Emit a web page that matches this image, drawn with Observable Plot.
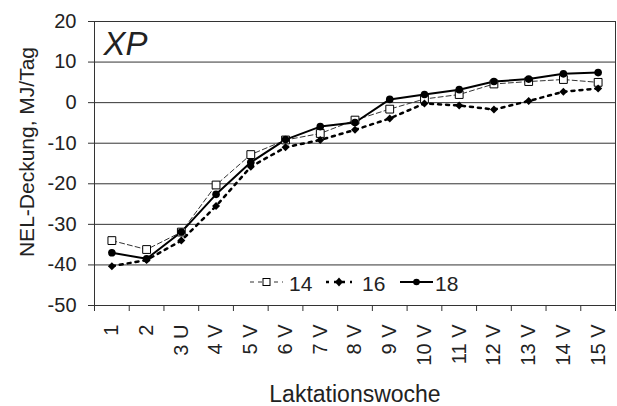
<!DOCTYPE html>
<html><head><meta charset="utf-8">
<script src="https://cdn.jsdelivr.net/npm/d3@7"></script>
<script src="https://cdn.jsdelivr.net/npm/@observablehq/plot@0.6"></script>
<style>
body{margin:0;background:#fff;}
#wrap{position:relative;width:617px;height:406px;font-family:"Liberation Sans",Arial,sans-serif;color:#222;}
#legend{position:absolute;left:0;top:0;pointer-events:none;}
</style></head><body><div id="wrap"></div>
<script>
const weeks = ["1","2","3 U","4 V","5 V","6 V","7 V","8 V","9 V","10 V","11 V","12 V","13 V","14 V","15 V"];
const s14 = [-34.0,-36.2,-31.9,-20.3,-12.8,-9.2,-7.6,-4.3,-1.6,0.9,2.0,4.6,5.2,5.7,5.0];
const s16 = [-40.3,-38.8,-34.0,-25.5,-15.8,-11.0,-9.2,-6.7,-3.9,-0.2,-0.7,-1.7,0.4,2.7,3.5];
const s18 = [-37.0,-38.5,-31.9,-22.6,-14.7,-9.1,-5.9,-4.9,0.8,2.0,3.2,5.2,5.8,7.1,7.4];
const seriesNames = ["14","16","18"];
const yTicks = [-50,-40,-30,-20,-10,0,10,20];
const yTitle = "NEL-Deckung, MJ/Tag";
const xTitle = "Laktationswoche";
const panelLabel = "XP";

const idx = weeks.map((_, i) => i + 1);
const edges = d3.range(0, weeks.length + 1).map(i => i + 0.5);
const rows = vals => vals.map((v, i) => ({x: i + 1, y: v}));
const d14 = rows(s14), d16 = rows(s16), d18 = rows(s18);

const chart = Plot.plot({
  width: 617, height: 406,
  marginLeft: 94, marginRight: 2, marginTop: 21, marginBottom: 101,
  style: {fontFamily: "Liberation Sans, Arial, sans-serif", fontSize: "20px", color: "#222", background: "#fff"},
  x: {type: "linear", domain: [0.5, weeks.length + 0.5]},
  y: {domain: [-50, 20]},
  marks: [
    Plot.gridY(yTicks, {stroke: "#333", strokeOpacity: 1}),
    Plot.frame({stroke: "#333"}),
    Plot.axisY(yTicks, {tickSize: 6, tickPadding: 12, label: null, stroke: "#333", tickFormat: d => String(d)}),
    Plot.axisX(edges, {tickSize: 6, tickFormat: () => "", label: null, stroke: "#333"}),
    Plot.axisX(idx, {tickSize: 0, tickPadding: 19, tickRotate: -90, tickFormat: i => weeks[i - 1], label: null}),
    Plot.line(d14, {x: "x", y: "y", stroke: "#333", strokeWidth: 1, strokeDasharray: "5,3"}),
    Plot.line(d16, {x: "x", y: "y", stroke: "#000", strokeWidth: 2.5, strokeDasharray: "3,5"}),
    Plot.line(d18, {x: "x", y: "y", stroke: "#000", strokeWidth: 2}),
    Plot.dot(d14, {x: "x", y: "y", symbol: "square", r: 4.4, fill: "#fff", stroke: "#000", strokeWidth: 1}),
    Plot.dot(d16, {x: "x", y: "y", symbol: "diamond2", r: 3.6, fill: "#000", stroke: "none"}),
    Plot.dot(d18, {x: "x", y: "y", symbol: "circle", r: 3.8, fill: "#000", stroke: "none"}),
    Plot.text([xTitle], {text: d => d, frameAnchor: "bottom", dy: 96, lineAnchor: "bottom", fontSize: 23}),
    Plot.text([yTitle], {text: d => d, frameAnchor: "left", textAnchor: "middle", lineAnchor: "middle", dx: -67, dy: -11.5, rotate: -90, fontSize: 21}),
    Plot.text([panelLabel], {text: d => d, frameAnchor: "top-left", dx: 9, dy: 33, lineAnchor: "bottom", textAnchor: "start", fontSize: 33, fontStyle: "italic"})
  ]
});
const wrap = document.getElementById("wrap");
wrap.appendChild(chart);

// legend overlay
const ns = "http://www.w3.org/2000/svg";
const leg = document.createElementNS(ns, "svg");
leg.setAttribute("id", "legend");
leg.setAttribute("width", 617); leg.setAttribute("height", 406);
const items = [
  {x0: 250, x1: 283, tx: 289, dash: "4,4", w: 1, stroke: "#333", sym: "square"},
  {x0: 326, x1: 352, tx: 362, dash: "3,5", w: 2.5, stroke: "#000", sym: "diamond"},
  {x0: 400, x1: 433, tx: 435, dash: null, w: 2, stroke: "#000", sym: "circle"}
];
const ly = 282;
items.forEach((it, i) => {
  const l = document.createElementNS(ns, "line");
  l.setAttribute("x1", it.x0); l.setAttribute("x2", it.x1);
  l.setAttribute("y1", ly); l.setAttribute("y2", ly);
  l.setAttribute("stroke", it.stroke); l.setAttribute("stroke-width", it.w);
  if (it.dash) l.setAttribute("stroke-dasharray", it.dash);
  leg.appendChild(l);
  const cx = (it.x0 + it.x1) / 2;
  let s;
  if (it.sym === "square") {
    s = document.createElementNS(ns, "rect");
    s.setAttribute("x", cx - 3.5); s.setAttribute("y", ly - 3.5);
    s.setAttribute("width", 7); s.setAttribute("height", 7);
    s.setAttribute("fill", "#fff"); s.setAttribute("stroke", "#000");
  } else if (it.sym === "diamond") {
    s = document.createElementNS(ns, "path");
    s.setAttribute("d", `M${cx},${ly-4.5}L${cx+4},${ly}L${cx},${ly+4.5}L${cx-4},${ly}Z`);
    s.setAttribute("fill", "#000");
  } else {
    s = document.createElementNS(ns, "circle");
    s.setAttribute("cx", cx); s.setAttribute("cy", ly); s.setAttribute("r", 3.3);
    s.setAttribute("fill", "#000");
  }
  leg.appendChild(s);
  const t = document.createElementNS(ns, "text");
  t.setAttribute("x", it.tx); t.setAttribute("y", 291);
  t.setAttribute("font-size", 21); t.setAttribute("fill", "#222");
  t.setAttribute("font-family", "Liberation Sans, Arial, sans-serif");
  t.textContent = seriesNames[i];
  leg.appendChild(t);
});
wrap.appendChild(leg);
</script></body></html>
